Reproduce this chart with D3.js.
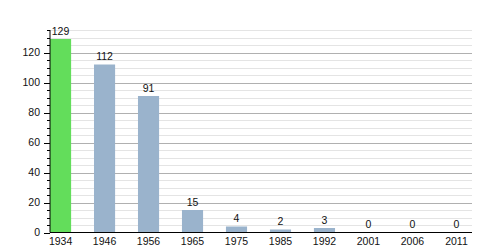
<!DOCTYPE html>
<html>
<head>
<meta charset="utf-8">
<script src="https://cdn.jsdelivr.net/npm/d3@7"></script>
<style>
  body{margin:0;background:#fff;}
  svg text{font-family:"Liberation Sans",Arial,sans-serif;font-size:10.5px;fill:#111;}
</style>
</head>
<body>
<svg id="chart" width="500" height="250"></svg>
<script>
const years=['1934','1946','1956','1965','1975','1985','1992','2001','2006','2011']
const population=[129,112,91,15,4,2,3,0,0,0]
const y_ticks=[0,20,40,60,80,100,120]

const box={left:50,right:472,top:30,bot:232.5}

const svg=d3.select('#chart')

const x=d3.scaleBand()
    .domain(years)
    .range([box.left,467])
    .paddingInner(0.52)
    .paddingOuter(0)
    .align(0)

const y=d3.scaleLinear()
    .domain([0,135])
    .range([box.bot,box.top])

// grid lines, light every 5, darker every 20
const minor=d3.range(5,136,5)
svg.append('g').selectAll('line')
    .data(minor)
    .join('line')
    .attr('x1',box.left).attr('x2',box.right)
    .attr('y1',d=>Math.round(y(d))+0.5).attr('y2',d=>Math.round(y(d))+0.5)
    .attr('stroke',d=>d%20==0?'#b0b0b0':'#e4e4e4')
    .attr('stroke-width',1)

// bars
svg.append('g').selectAll('rect')
    .data(population)
    .join('rect')
    .attr('x',(d,i)=>x(years[i]))
    .attr('width',x.bandwidth())
    .attr('y',d=>y(d))
    .attr('height',d=>box.bot-y(d))
    .attr('fill',(d,i)=>i==0?'#63dd5b':'#9ab3cc')

// value labels
svg.append('g').selectAll('text')
    .data(population)
    .join('text')
    .attr('x',(d,i)=>x(years[i])+x.bandwidth()/2)
    .attr('y',d=>y(d)-4.5)
    .attr('text-anchor','middle')
    .text(d=>d)

// y axis with minor ticks
const y_axis=svg.append('g').attr('transform',`translate(${box.left},0)`)
y_axis.append('line')
    .attr('x1',0).attr('x2',0)
    .attr('y1',box.top).attr('y2',box.bot)
    .attr('stroke','#000')
y_axis.selectAll('line.tick')
    .data(d3.range(0,136,5))
    .join('line')
    .attr('class','tick')
    .attr('x1',d=>d%20==0?-6:-3).attr('x2',0)
    .attr('y1',d=>Math.round(y(d))+0.5).attr('y2',d=>Math.round(y(d))+0.5)
    .attr('stroke','#000')
y_axis.selectAll('text')
    .data(y_ticks)
    .join('text')
    .attr('x',-10)
    .attr('y',d=>y(d))
    .attr('dy','0.35em')
    .attr('text-anchor','end')
    .text(d=>d)

// x axis
svg.append('line')
    .attr('x1',box.left).attr('x2',box.right)
    .attr('y1',box.bot).attr('y2',box.bot)
    .attr('stroke','#000')
svg.append('g').selectAll('text')
    .data(years)
    .join('text')
    .attr('x',d=>x(d)+x.bandwidth()/2)
    .attr('y',box.bot+12)
    .attr('text-anchor','middle')
    .text(d=>d)
</script>
</body>
</html>
